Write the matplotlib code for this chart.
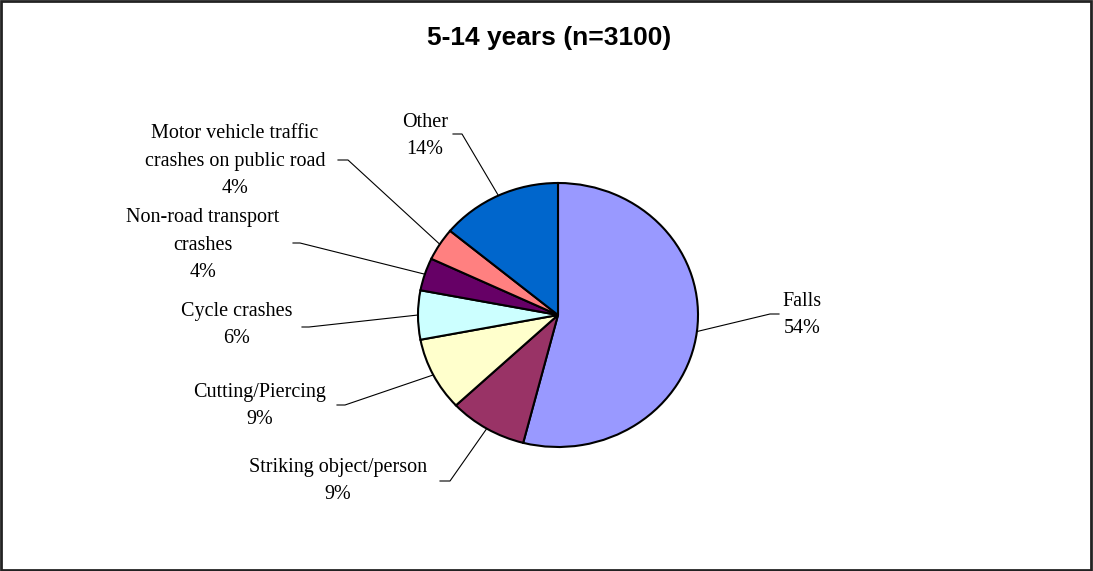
import matplotlib.pyplot as plt
from matplotlib.patches import Rectangle
import numpy as np

kategori = ['Falls', 'Striking object/person', 'Cutting/Piercing', 'Cycle crashes',
            'Non-road transport\ncrashes', 'Motor vehicle traffic\ncrashes on public road', 'Other']
persen = [54, 9, 9, 6, 4, 4, 14]
warna = ['#9999FF', '#993366', '#FFFFCC', '#CCFFFF', '#660066', '#FF8080', '#0066CC']

# posisi label (piksel): pusat teks, titik awal garis, titik siku
posisi_teks = [(802, 315), (338, 481), (260, 406), (237, 325), (203, 245), (235, 161), (425, 136)]
garis_awal = [(779, 314), (440, 481), (337, 405), (302, 327), (293, 243), (338, 160), (453, 134)]
garis_siku = [(770, 314), (450, 481), (345, 405), (309, 327), (300, 243), (348, 160), (462, 134)]

W, H = 1093, 571
cx, cy, rx, ry = 558, 315, 140, 132


def ke_data(p):
    return (p[0] - cx) / rx, (cy - p[1]) / ry


fig = plt.figure(figsize=(W / 100, H / 100), dpi=100)
ax = fig.add_axes([0, 0, 1, 1])

wedges, _ = ax.pie(persen, colors=warna, startangle=90, counterclock=False,
                   wedgeprops={'edgecolor': 'black', 'linewidth': 1.5})
ax.set_aspect('auto')
ax.set_xlim((0 - cx) / rx, (W - cx) / rx)
ax.set_ylim((cy - H) / ry, (cy - 0) / ry)
ax.axis('off')

for w, nama, v, pt, pa, ps in zip(wedges, kategori, persen, posisi_teks, garis_awal, garis_siku):
    tengah = np.deg2rad((w.theta1 + w.theta2) / 2)
    titik = (np.cos(tengah), np.sin(tengah))
    a, s = ke_data(pa), ke_data(ps)
    ax.plot([a[0], s[0], titik[0]], [a[1], s[1], titik[1]], color='black', linewidth=0.8)
    tx, ty = ke_data(pt)
    ax.text(tx, ty, f"{nama}\n{v}%", ha='center', va='center', multialignment='center',
            fontsize=14.5, family='Liberation Serif', linespacing=1.58)

fig.text(549 / W, 1 - 38 / H, "5-14 years (n=3100)", ha='center', va='center',
         fontsize=19, fontweight='bold', family='Liberation Sans')

fig.patches.append(Rectangle((0.001, 0.002), 0.997, 0.996, transform=fig.transFigure,
                             fill=False, edgecolor='#222222', linewidth=2))

fig.savefig('out.png', dpi=100)
